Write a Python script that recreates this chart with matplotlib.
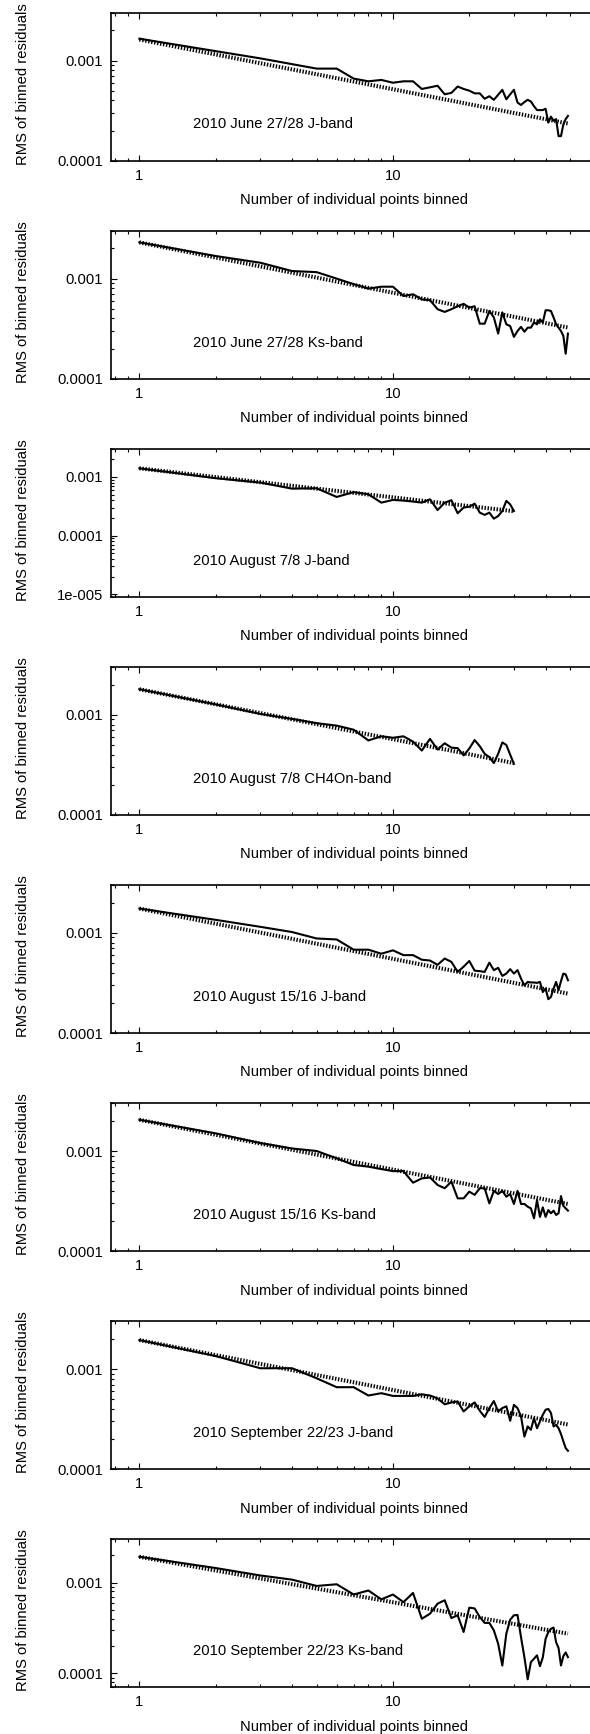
import numpy as np
import matplotlib
matplotlib.use("Agg")
import matplotlib.pyplot as plt
from matplotlib.ticker import FixedLocator, LogLocator, FuncFormatter, NullFormatter

plt.rcParams['font.family'] = ['Liberation Sans', 'DejaVu Sans']
plt.rcParams['font.size'] = 10.6

# RMS of binned residuals, one value per bin size N = 1, 2, 3, ...
june_j = [1.65e-3, 1.24e-3, 1.05e-3, 9.2e-4, 8.3e-4, 8.3e-4, 6.6e-4, 6.2e-4, 6.4e-4, 6.0e-4,
          6.2e-4, 6.2e-4, 5.2e-4, 5.4e-4, 5.6e-4, 4.6e-4, 4.75e-4, 5.5e-4, 5.2e-4, 5.0e-4,
          4.7e-4, 4.7e-4, 4.15e-4, 4.4e-4, 4.05e-4, 4.55e-4, 5.1e-4, 4.1e-4, 4.6e-4, 5.1e-4,
          3.8e-4, 3.6e-4, 3.85e-4, 4.05e-4, 3.9e-4, 3.5e-4, 3.2e-4, 3.2e-4, 3.2e-4, 3.3e-4,
          2.4e-4, 2.75e-4, 2.5e-4, 2.6e-4, 1.76e-4, 1.76e-4, 2.3e-4, 2.6e-4, 2.8e-4]
june_ks = [2.3e-3, 1.68e-3, 1.44e-3, 1.19e-3, 1.16e-3, 1.0e-3, 8.8e-4, 7.95e-4, 8.3e-4, 8.3e-4,
           6.7e-4, 6.98e-4, 6.2e-4, 6.1e-4, 4.95e-4, 4.65e-4, 4.95e-4, 5.3e-4, 5.6e-4, 5.14e-4,
           5.3e-4, 3.55e-4, 3.55e-4, 4.75e-4, 4.1e-4, 2.83e-4, 4.6e-4, 3.5e-4, 3.36e-4, 2.62e-4,
           3.0e-4, 3.3e-4, 2.95e-4, 3.24e-4, 3.24e-4, 3.65e-4, 3.5e-4, 3.93e-4, 3.65e-4, 4.83e-4,
           4.83e-4, 4.75e-4, 4.1e-4, 3.5e-4, 3.24e-4, 3.0e-4, 2.68e-4, 1.78e-4, 2.83e-4]
aug7_j = [1.4e-3, 9.5e-4, 8.0e-4, 6.3e-4, 6.4e-4, 4.55e-4, 5.5e-4, 5.05e-4, 3.64e-4, 4.05e-4,
          3.94e-4, 3.8e-4, 3.64e-4, 4.15e-4, 2.72e-4, 3.64e-4, 4.0e-4, 2.4e-4, 3.0e-4, 3.1e-4,
          3.5e-4, 2.46e-4, 2.25e-4, 2.46e-4, 1.94e-4, 2.15e-4, 2.62e-4, 3.9e-4, 3.4e-4, 2.62e-4]
aug7_ch4 = [1.8e-3, 1.27e-3, 1.02e-3, 9.1e-4, 8.25e-4, 7.8e-4, 7.1e-4, 5.55e-4, 6.1e-4, 5.9e-4,
            6.1e-4, 5.4e-4, 4.4e-4, 5.75e-4, 4.5e-4, 5.2e-4, 4.7e-4, 4.65e-4, 3.93e-4, 4.6e-4,
            5.6e-4, 4.86e-4, 4.08e-4, 3.78e-4, 3.3e-4, 4.08e-4, 5.3e-4, 5.0e-4, 4.0e-4, 3.24e-4]
aug15_j = [1.75e-3, 1.35e-3, 1.15e-3, 1.02e-3, 8.8e-4, 8.6e-4, 6.8e-4, 6.8e-4, 6.2e-4, 6.7e-4,
           6.0e-4, 6.0e-4, 5.4e-4, 5.3e-4, 4.8e-4, 5.55e-4, 5.14e-4, 4.08e-4, 4.6e-4, 5.25e-4,
           4.2e-4, 4.15e-4, 4.08e-4, 5.05e-4, 4.25e-4, 4.48e-4, 3.72e-4, 3.93e-4, 4.35e-4, 3.93e-4,
           4.25e-4, 3.5e-4, 3.0e-4, 3.24e-4, 3.2e-4, 3.2e-4, 3.17e-4, 3.24e-4, 2.57e-4, 2.78e-4,
           2.18e-4, 2.3e-4, 2.78e-4, 3.24e-4, 2.68e-4, 3.3e-4, 3.93e-4, 3.85e-4, 3.37e-4]
aug15_ks = [2.05e-3, 1.5e-3, 1.2e-3, 1.06e-3, 1.0e-3, 8.45e-4, 7.25e-4, 6.98e-4, 6.6e-4, 6.3e-4,
            6.3e-4, 4.83e-4, 5.33e-4, 5.45e-4, 4.58e-4, 4.25e-4, 4.95e-4, 3.37e-4, 3.37e-4, 3.93e-4,
            3.65e-4, 4.25e-4, 4.25e-4, 3.0e-4, 4.0e-4, 3.72e-4, 4.0e-4, 3.5e-4, 3.72e-4, 2.96e-4,
            4.0e-4, 2.96e-4, 2.96e-4, 2.78e-4, 2.68e-4, 2.13e-4, 3.24e-4, 2.2e-4, 2.74e-4, 2.2e-4,
            2.57e-4, 2.39e-4, 2.54e-4, 2.3e-4, 2.39e-4, 3.55e-4, 2.83e-4, 2.68e-4, 2.54e-4]
sep_j = [1.95e-3, 1.35e-3, 1.02e-3, 1.02e-3, 8.1e-4, 6.6e-4, 6.6e-4, 5.45e-4, 5.75e-4, 5.4e-4,
         5.4e-4, 5.4e-4, 5.6e-4, 5.45e-4, 5.1e-4, 4.45e-4, 4.65e-4, 4.75e-4, 3.78e-4, 4.25e-4,
         4.65e-4, 3.84e-4, 3.33e-4, 4.08e-4, 4.8e-4, 3.78e-4, 4.08e-4, 4.25e-4, 3.05e-4, 4.4e-4,
         4.08e-4, 3.37e-4, 2.12e-4, 2.68e-4, 2.48e-4, 3.24e-4, 2.57e-4, 3.0e-4, 3.5e-4, 3.93e-4,
         4.0e-4, 3.65e-4, 2.68e-4, 2.78e-4, 2.57e-4, 2.25e-4, 1.9e-4, 1.63e-4, 1.53e-4]
sep_ks = [1.93e-3, 1.45e-3, 1.2e-3, 1.08e-3, 9.2e-4, 9.6e-4, 7.4e-4, 8.2e-4, 6.55e-4, 7.4e-4,
          6.1e-4, 7.7e-4, 4.0e-4, 4.55e-4, 5.87e-4, 6.4e-4, 4.07e-4, 4.37e-4, 2.86e-4, 5.3e-4,
          5.2e-4, 4.18e-4, 3.6e-4, 3.6e-4, 2.98e-4, 2.12e-4, 1.22e-4, 2.74e-4, 3.9e-4, 4.37e-4,
          4.4e-4, 2.5e-4, 1.5e-4, 8.6e-5, 1.33e-4, 1.45e-4, 1.58e-4, 1.2e-4, 1.5e-4, 2.4e-4,
          2.86e-4, 3.1e-4, 3.2e-4, 2.2e-4, 1.9e-4, 1.22e-4, 1.55e-4, 1.7e-4, 1.51e-4]

series = [june_j, june_ks, aug7_j, aug7_ch4, aug15_j, aug15_ks, sep_j, sep_ks]
titles = ["2010 June 27/28 J-band", "2010 June 27/28 Ks-band",
          "2010 August 7/8 J-band", "2010 August 7/8 CH4On-band",
          "2010 August 15/16 J-band", "2010 August 15/16 Ks-band",
          "2010 September 22/23 J-band", "2010 September 22/23 Ks-band"]
# expected white-noise fall-off (dotted): value at N=1 and at the last bin
noise_start = [1.62e-3, 2.3e-3, 1.4e-3, 1.8e-3, 1.75e-3, 2.05e-3, 1.95e-3, 1.93e-3]
noise_end = [2.35e-4, 3.25e-4, 2.6e-4, 3.3e-4, 2.48e-4, 2.96e-4, 2.8e-4, 2.74e-4]
y_bottom = [1e-4, 1e-4, 9e-6, 1e-4, 1e-4, 1e-4, 1e-4, 7e-5]
y_top = 3e-3

ylabels = {1e-3: "0.001", 1e-4: "0.0001", 1e-5: "1e-005"}

W, H = 590.0, 1734.0
fig = plt.figure(figsize=(W / 100, H / 100), dpi=100)

for k, vals in enumerate(series):
    top = 12.7 + 218.1 * k
    # right border of the box lies past the image edge, as in the original
    ax = fig.add_axes([110.6 / W, 1 - (top + 148) / H, 535.9 / W, 148 / H])
    n = np.arange(1, len(vals) + 1)
    ax.plot(n, vals, color="black", lw=1.5, solid_joinstyle="round")
    ax.plot([1, n[-1]], [noise_start[k], noise_end[k]], color="black", lw=2.9,
            linestyle=(0, (0.35, 0.4)), dash_capstyle="butt")
    ax.set_xscale("log")
    ax.set_yscale("log")
    ax.set_xlim(0.77, 100)
    ax.set_ylim(y_bottom[k], y_top)

    ax.xaxis.set_major_locator(FixedLocator([1, 10]))
    ax.xaxis.set_minor_locator(LogLocator(base=10, subs=np.arange(2, 10)))
    ax.xaxis.set_major_formatter(FuncFormatter(lambda v, p: "%g" % v))
    ax.xaxis.set_minor_formatter(NullFormatter())
    ax.yaxis.set_major_locator(LogLocator(base=10, numticks=10))
    ax.yaxis.set_minor_locator(LogLocator(base=10, subs=np.arange(2, 10), numticks=20))
    ax.yaxis.set_major_formatter(FuncFormatter(
        lambda v, p: min(ylabels.items(), key=lambda kv: abs(np.log10(kv[0] / v)))[1]))
    ax.yaxis.set_minor_formatter(NullFormatter())

    ax.tick_params(which="both", direction="in", top=True, right=False, width=0.8)
    ax.tick_params(which="major", length=4.1)
    ax.tick_params(which="minor", length=2.2)
    ax.tick_params(axis="x", pad=5.7)
    ax.tick_params(axis="y", pad=5.5)
    for sp in ax.spines.values():
        sp.set_linewidth(1.2)

    ax.text(0.153, 0.245, titles[k], transform=ax.transAxes, ha="left", va="center")
    ax.set_xlabel("Number of individual points binned")
    ax.xaxis.set_label_coords(0.454, -39.3 / 148)
    ax.xaxis.label.set_va("center")
    ax.set_ylabel("RMS of binned residuals")
    ax.yaxis.set_label_coords(-88.0 / 535.9, 0.52)
    ax.yaxis.label.set_va("center")

fig.savefig("out.png", dpi=100)
